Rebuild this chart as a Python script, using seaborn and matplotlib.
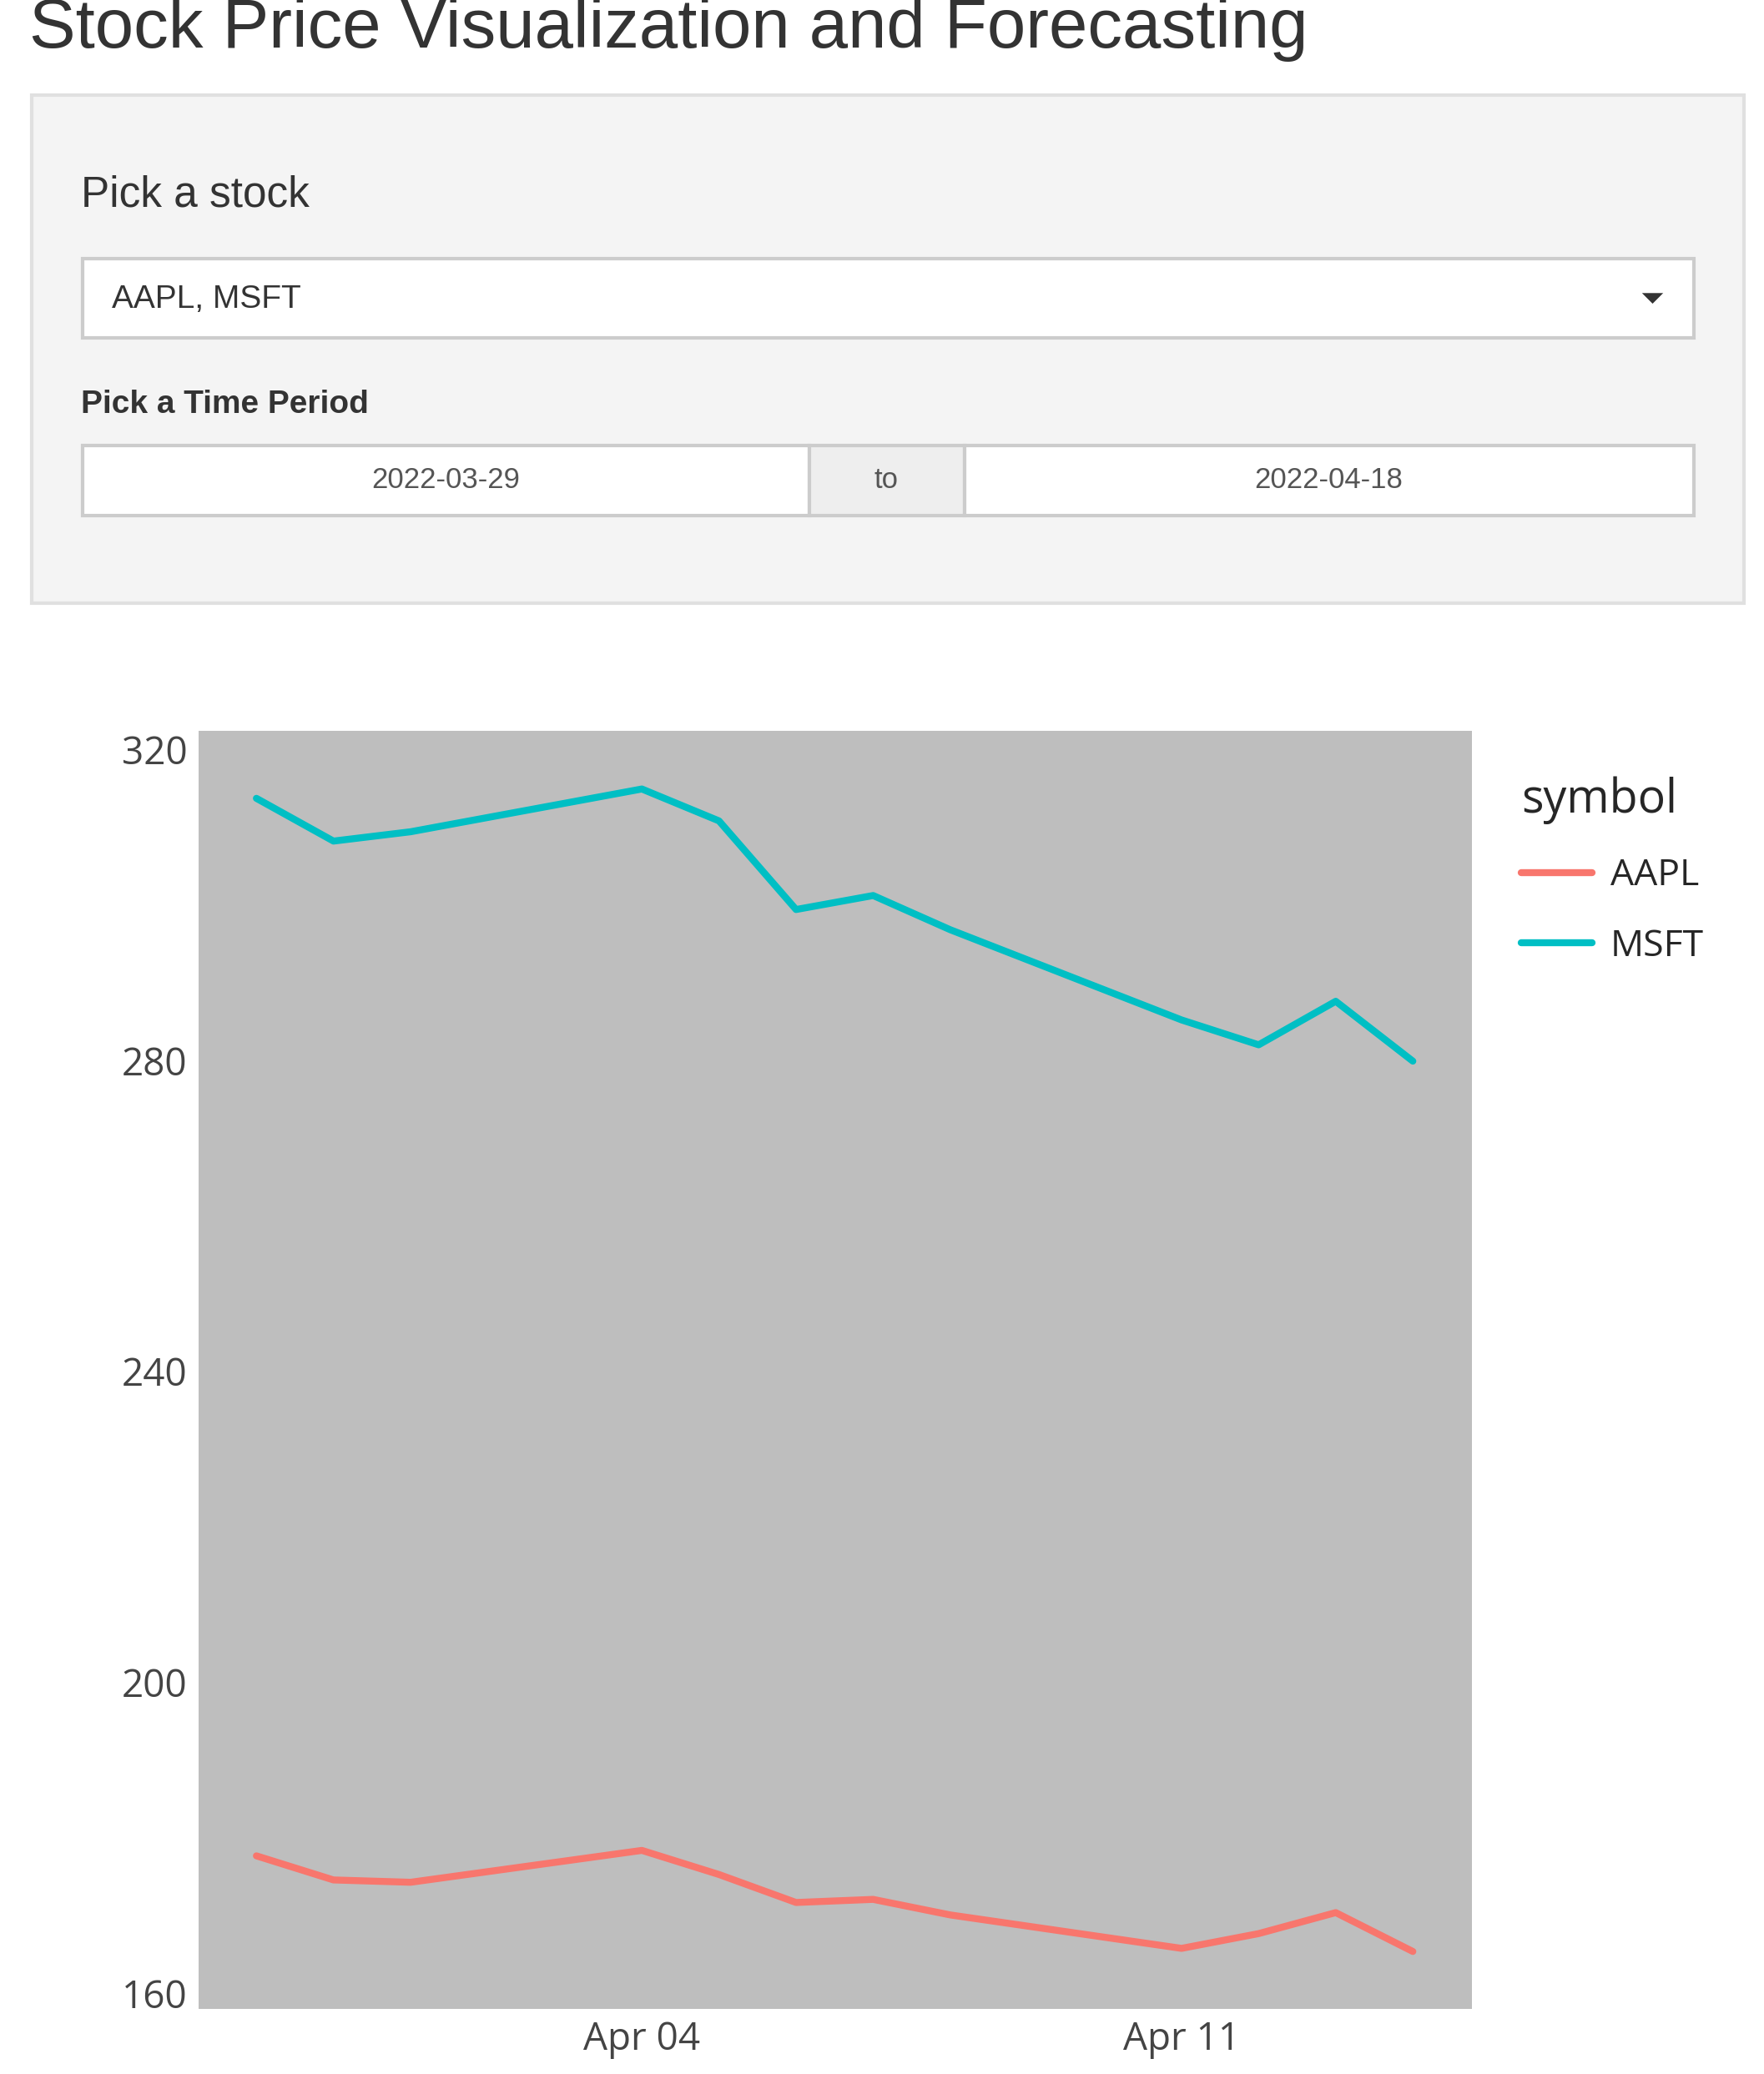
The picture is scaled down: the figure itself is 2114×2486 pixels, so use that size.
import pandas as pd
import numpy as np
import matplotlib.pyplot as plt
import matplotlib.dates as mdates
from matplotlib.patches import Rectangle, Polygon
import seaborn as sns

# Data
dates = ['2022-03-30', '2022-03-31', '2022-04-01', '2022-04-04', '2022-04-05', '2022-04-06',
         '2022-04-07', '2022-04-08', '2022-04-11', '2022-04-12', '2022-04-13', '2022-04-14']
aapl = [177.7, 174.6, 174.3, 178.4, 175.3, 171.7, 172.1, 170.1, 165.8, 167.7, 170.4, 165.4]
msft = [313.7, 308.2, 309.4, 314.9, 310.8, 299.4, 301.2, 296.8, 285.2, 282.0, 287.6, 279.9]

df = pd.DataFrame({
    'date': pd.to_datetime(dates * 2),
    'price': aapl + msft,
    'symbol': ['AAPL'] * len(dates) + ['MSFT'] * len(dates),
})

sns.set_style('white')
plt.rcParams['font.family'] = ['Liberation Sans', 'DejaVu Sans']

W, H = 1330, 1564  # layout grid of the reference screenshot
fig = plt.figure(figsize=(21.14, 24.86), dpi=100)

def fx(x):
    return x / W

def fy(y):
    return 1 - y / H

def box(x0, y0, x1, y1, fc, ec):
    fig.add_artist(Rectangle((fx(x0), fy(y1)), fx(x1) - fx(x0), fy(y0) - fy(y1),
                             transform=fig.transFigure, fc=fc, ec=ec, lw=3))

# Shiny-style input panel
fig.text(fx(22), fy(22), 'Stock Price Visualization and Forecasting', fontsize=60,
         color='#333333', va='center', ha='left')
box(24, 72, 1315, 455, '#f4f4f4', '#e0e0e0')
fig.text(fx(61), fy(147), 'Pick a stock', fontsize=37, color='#333333', va='center')
box(62, 195, 1277, 255, 'white', '#cccccc')
fig.text(fx(84), fy(226), 'AAPL, MSFT', fontsize=28, color='#333333', va='center')
fig.add_artist(Polygon([[fx(1238), fy(221)], [fx(1254), fy(221)], [fx(1246), fy(229)]],
                       closed=True, transform=fig.transFigure, fc='#333333', ec='none'))
fig.text(fx(61), fy(305), 'Pick a Time Period', fontsize=28, color='#333333',
         va='center', fontweight='bold')
box(62, 336, 610, 389, 'white', '#cccccc')
box(610, 336, 727, 389, '#eeeeee', '#cccccc')
box(727, 336, 1277, 389, 'white', '#cccccc')
fig.text(fx(336), fy(362), '2022-03-29', fontsize=25, color='#555555', ha='center', va='center')
fig.text(fx(668), fy(362), 'to', fontsize=25, color='#555555', ha='center', va='center')
fig.text(fx(1002), fy(362), '2022-04-18', fontsize=25, color='#555555', ha='center', va='center')

# Plot area
ax = fig.add_axes([fx(150), fy(1515), fx(1110) - fx(150), fy(551) - fy(1515)])
ax.set_facecolor('#bebebe')
sns.lineplot(data=df, x='date', y='price', hue='symbol', ax=ax,
             palette={'AAPL': '#F8766D', 'MSFT': '#00BFC4'}, linewidth=6)
for s in ax.spines.values():
    s.set_visible(False)

apr4 = mdates.date2num(pd.Timestamp('2022-04-04'))
ax.set_xlim(apr4 - 5.745, apr4 + 7 + 3.77)
ax.set_ylim(158.0, 322.4)
ax.set_yticks([160, 200, 240, 280, 320])
ax.set_xticks([apr4, apr4 + 7])
ax.set_xticklabels(['Apr 04', 'Apr 11'])
ax.tick_params(length=0, labelsize=33, labelcolor='#444444', pad=10)
for lab in ax.get_xticklabels() + ax.get_yticklabels():
    lab.set_family(['Open Sans', 'DejaVu Sans'])
ax.set_xlabel('')
ax.set_ylabel('')

leg = ax.legend(title='symbol', loc='upper left', bbox_to_anchor=(fx(1122), fy(560)),
                bbox_transform=fig.transFigure, frameon=False, fontsize=32,
                title_fontsize=40, handlelength=1.9, labelspacing=0.9, handletextpad=0.5)
leg._legend_box.align = 'left'
for t in leg.get_texts() + [leg.get_title()]:
    t.set_family(['Open Sans', 'DejaVu Sans'])
for l in leg.get_lines():
    l.set_linewidth(6)

fig.savefig('out.png', dpi=100)
